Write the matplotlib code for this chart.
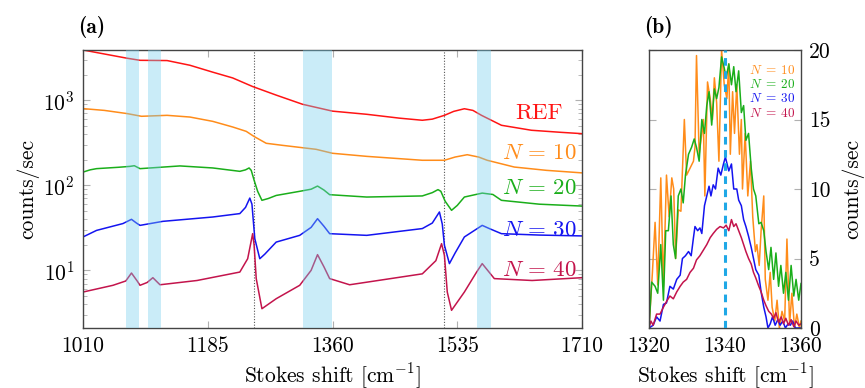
import matplotlib
matplotlib.use("Agg")
import matplotlib.pyplot as plt
from matplotlib.ticker import FixedLocator, NullFormatter, LogLocator

plt.rcParams['font.family'] = 'serif'
plt.rcParams['font.serif'] = ['cmr10', 'DejaVu Serif']
plt.rcParams['mathtext.fontset'] = 'cm'
plt.rcParams['axes.formatter.use_mathtext'] = True

# ---------------- panel (a) data ----------------
ref_x = [1010, 1040, 1072, 1090, 1128, 1160, 1192, 1220, 1248, 1281, 1318, 1360, 1408, 1454, 1486, 1500,
         1517, 1530, 1545, 1557, 1569, 1597, 1639, 1680, 1710]
ref_y = [3900, 3500, 3120, 2950, 2930, 2580, 2140, 1830, 1450, 1150, 897, 745, 684, 616, 582, 600,
         665, 740, 795, 760, 665, 508, 444, 420, 405]

n10_x = [1010, 1040, 1072, 1092, 1128, 1160, 1192, 1220, 1239, 1250, 1267, 1290, 1337, 1360, 1408, 1486,
         1517, 1532, 1549, 1565, 1577, 1615, 1660, 1710]
n10_y = [798, 760, 697, 648, 665, 635, 565, 485, 431, 375, 312, 295, 265, 238, 219, 197,
         197, 215, 229, 215, 197, 164, 150, 140]

n20_x = [1010, 1020, 1029, 1060, 1076, 1082, 1090, 1146, 1192, 1230, 1238, 1243, 1246, 1250, 1255, 1261,
         1270, 1281, 1314, 1330, 1339, 1348, 1356, 1408, 1486, 1500, 1508, 1512, 1518, 1527, 1535, 1545,
         1570, 1585, 1597, 1650, 1710]
n20_y = [143, 152, 157, 163, 167, 170, 157, 169, 160, 146, 152, 160, 150, 115, 85, 66.6,
         70, 76, 85, 90, 98, 88, 77.6, 72.8, 75, 82, 89, 85, 65, 50.8, 58, 72.8,
         81, 78, 66.6, 60, 57]

n30_x = [1010, 1029, 1066, 1078, 1085, 1090, 1122, 1192, 1230, 1238, 1244, 1247, 1251, 1258, 1265, 1281,
         1314, 1330, 1339, 1348, 1356, 1408, 1486, 1500, 1510, 1514, 1517, 1524, 1532, 1545, 1570, 1580,
         1597, 1650, 1710]
n30_y = [24.7, 29.5, 35.5, 39.8, 36, 33.8, 37.7, 42.4, 46.5, 55, 70.8, 60, 23.6, 13.7, 15.5, 21.5,
         25.8, 32, 40.5, 33, 27, 25.8, 31, 36, 48.6, 35, 19.7, 12.0, 16, 24.7, 33.8, 31,
         27, 26, 25.4]

n40_x = [1010, 1052, 1070, 1078, 1086, 1090, 1100, 1108, 1118, 1170, 1230, 1241, 1248, 1250, 1253, 1261,
         1281, 1314, 1330, 1339, 1348, 1356, 1384, 1486, 1505, 1513, 1517, 1521, 1527, 1545, 1562, 1570,
         1587, 1640, 1710]
n40_y = [5.56, 6.67, 7.5, 9.3, 7.5, 6.67, 7.2, 8.2, 6.77, 7.6, 9.55, 13.7, 27, 20, 8.0, 3.54,
         4.64, 6.67, 10, 15.3, 11, 8.0, 6.77, 9.1, 13, 20.6, 15, 5.56, 3.39, 5.56, 9.5, 12.0,
         8.0, 7.6, 8.2]

bands = [(1070, 1088), (1101, 1119), (1319, 1359), (1563, 1583)]
dotted_lines = [1249.5, 1517]
a_xticks = [1010, 1185, 1360, 1535, 1710]
a_labels = ['REF', r'$N\,=\,10$', r'$N\,=\,20$', r'$N\,=\,30$', r'$N\,=\,40$']
a_label_y = [700, 238, 92, 29.5, 10]

# ---------------- panel (b) data ----------------
b10_x = [1320.0, 1320.9, 1321.6, 1322.3, 1323.1, 1323.8, 1324.6, 1325.3, 1326.0, 1326.5, 1327.0, 1327.7,
         1328.4, 1329.3, 1329.9, 1330.8, 1331.7, 1332.1, 1332.5, 1333.2, 1333.9, 1334.3, 1334.7, 1335.4,
         1336.1, 1336.7, 1337.2, 1337.8, 1338.4, 1339.1, 1339.8, 1340.5, 1341.0, 1341.4, 1342.0, 1342.5,
         1343.1, 1343.8, 1344.3, 1344.6, 1345.3, 1346.0, 1346.7, 1347.3, 1348.0, 1348.4, 1349.0, 1349.5,
         1350.2, 1350.6, 1351.3, 1351.9, 1352.4, 1353.1, 1353.7, 1354.3, 1355.0, 1355.7, 1356.3, 1357.0,
         1357.6, 1358.3, 1358.9, 1359.6, 1360.0]
b10_y = [0.0, 4.0, 7.6, 3.1, 10.8, 3.0, 11.0, 8.0, 10.8, 10.0, 5.0, 8.5,
         8.4, 15.0, 11.0, 11.5, 12.0, 13.0, 19.6, 12.5, 14.0, 15.0, 9.5, 17.7,
         16.5, 15.0, 18.0, 16.2, 12.0, 20.0, 17.5, 16.5, 19.0, 12.5, 17.0, 14.0,
         17.5, 12.5, 15.0, 10.0, 14.0, 9.5, 12.0, 8.0, 5.5, 6.0, 4.5, 7.0,
         9.5, 3.5, 2.0, 4.0, 1.5, 0.5, 2.0, 0.0, 1.2, 0.5, 6.4, 0.3,
         2.5, 0.0, 1.0, 0.0, 0.5]

b20_x = [1320.0, 1320.7, 1321.6, 1322.3, 1323.1, 1323.8, 1324.4, 1325.1, 1325.8, 1326.4, 1327.0, 1327.7,
         1328.4, 1329.0, 1329.6, 1330.4, 1331.2, 1331.9, 1332.5, 1333.2, 1333.9, 1334.6, 1335.2, 1335.8,
         1336.5, 1337.2, 1337.8, 1338.4, 1339.1, 1339.8, 1340.3, 1341.0, 1341.7, 1342.3, 1342.9, 1343.6,
         1344.3, 1344.9, 1345.5, 1346.2, 1346.9, 1347.5, 1348.1, 1348.9, 1349.5, 1350.2, 1350.8, 1351.5,
         1352.1, 1352.8, 1353.4, 1354.1, 1354.7, 1355.4, 1356.0, 1356.7, 1357.4, 1358.1, 1358.7, 1359.4,
         1360.0]
b20_y = [0.0, 3.3, 3.0, 2.5, 6.0, 2.0, 7.0, 7.0, 9.5, 6.0, 5.0, 9.5,
         10.0, 9.0, 11.0, 12.5, 13.0, 13.6, 13.0, 12.0, 15.0, 14.0, 16.0, 17.0,
         14.6, 17.2, 16.5, 17.3, 19.5, 18.7, 18.0, 19.0, 17.5, 18.8, 17.0, 18.5,
         15.5, 16.0, 13.5, 14.0, 11.5, 10.0, 9.5, 7.5, 7.6, 7.0, 5.5, 4.2,
         5.8, 3.5, 5.4, 3.0, 4.5, 2.5, 4.0, 2.0, 4.5, 2.3, 3.5, 2.0,
         3.2]

b30_x = [1320.0, 1321.1, 1322.0, 1322.9, 1323.8, 1324.6, 1325.5, 1326.4, 1327.3, 1328.2, 1328.8, 1329.6,
         1330.4, 1331.1, 1331.7, 1332.1, 1332.8, 1333.4, 1333.9, 1334.6, 1335.2, 1335.8, 1336.3, 1336.9,
         1337.5, 1338.2, 1338.9, 1339.6, 1340.1, 1341.0, 1341.7, 1342.3, 1343.1, 1343.6, 1344.3, 1344.9,
         1345.5, 1346.2, 1346.9, 1347.5, 1348.1, 1348.9, 1349.5, 1350.2, 1350.8, 1351.3, 1351.9, 1352.5,
         1353.2, 1353.9, 1354.5, 1355.2, 1355.9, 1356.6, 1357.2, 1357.8, 1358.5, 1360.0]
b30_y = [0.0, 0.2, 0.8, 0.5, 1.7, 1.8, 3.0, 2.8, 3.5, 3.8, 5.0, 5.2,
         5.5, 5.2, 6.5, 7.3, 7.0, 7.2, 6.8, 8.8, 9.5, 10.2, 9.5, 10.3,
         10.0, 11.5, 11.0, 11.8, 12.3, 11.3, 11.8, 10.0, 10.0, 9.2, 8.8, 7.8,
         7.3, 6.6, 5.8, 5.0, 4.2, 3.8, 2.6, 1.5, 0.8, 0.0, 0.3, 0.8,
         0.2, 0.6, 0.2, 0.5, 0.0, 0.3, 0.2, 0.5, 0.0, 0.0]

b40_x = [1320.0, 1320.5, 1321.1, 1322.0, 1322.9, 1323.8, 1324.6, 1325.5, 1326.4, 1327.3, 1328.2, 1329.0,
         1329.9, 1330.8, 1331.7, 1332.5, 1333.4, 1334.3, 1335.2, 1336.1, 1336.9, 1337.8, 1338.7, 1339.6,
         1340.3, 1341.0, 1341.7, 1342.3, 1342.9, 1343.6, 1344.3, 1344.9, 1345.5, 1346.2, 1346.9, 1347.5,
         1348.1, 1348.9, 1349.5, 1350.2, 1350.8, 1351.5, 1352.2, 1352.8, 1353.4, 1354.1, 1354.8, 1355.4,
         1356.0, 1356.7, 1357.4, 1358.1, 1358.7, 1359.4, 1360.0]
b40_y = [0.0, 0.5, 0.2, 1.0, 1.0, 1.5, 1.9, 2.3, 2.1, 2.6, 3.0, 3.3,
         3.5, 4.0, 4.3, 4.9, 5.2, 5.6, 6.0, 6.5, 6.8, 7.1, 7.3, 7.2,
         7.4, 7.0, 7.8, 7.3, 7.5, 7.0, 6.5, 6.0, 5.5, 5.0, 4.6, 4.0,
         3.6, 3.0, 2.6, 2.0, 1.6, 1.2, 1.0, 0.7, 1.1, 0.4, 0.8, 0.3,
         0.7, 0.2, 0.6, 0.1, 0.5, 0.2, 0.3]

b_center = 1340
b_xticks = [1320, 1340, 1360]
b_yticks = [0, 5, 10, 15, 20]
b_labels = [r'$N\;=\;10$', r'$N\;=\;20$', r'$N\;=\;30$', r'$N\;=\;40$']

colors = ['#ff1414', '#ff8c1a', '#1aae1a', '#1414f0', '#c3144c']

FS = 15.5

# ---------------- figure ----------------
fig = plt.figure(figsize=(8.65, 3.88), dpi=100)
ax = fig.add_axes([83 / 865, 1 - 328 / 388, 499 / 865, 278 / 388])
bx = fig.add_axes([649 / 865, 1 - 328 / 388, 152 / 865, 278 / 388])

series_a = [(ref_x, ref_y), (n10_x, n10_y), (n20_x, n20_y), (n30_x, n30_y), (n40_x, n40_y)]
for (xs, ys), c in zip(series_a, colors):
    ax.plot(xs, ys, color=c, lw=1.1, zorder=2)
for lo, hi in bands:
    ax.axvspan(lo, hi, color='#75cdee', alpha=0.38, lw=0, zorder=3)
for xv in dotted_lines:
    ax.axvline(xv, color='#555555', lw=0.8, ls=(0, (1, 1.5)), zorder=1)
for lab, yv, c in zip(a_labels, a_label_y, colors):
    ax.text(1650, yv, lab, color=c, fontsize=16.5, ha='center', va='center', zorder=4)

ax.set_yscale('log')
ax.set_xlim(1010, 1710)
ax.set_ylim(2.1, 3900)
ax.set_xticks(a_xticks)
ax.set_xticklabels([str(t) for t in a_xticks])
ax.yaxis.set_major_locator(FixedLocator([10, 100, 1000]))
ax.yaxis.set_minor_locator(LogLocator(base=10, subs=range(2, 10)))
ax.yaxis.set_minor_formatter(NullFormatter())
ax.tick_params(which='both', direction='in', color='#b0b0b0', top=True, right=True,
               labelsize=FS, pad=6)
ax.tick_params(which='major', length=5)
ax.tick_params(which='minor', length=3)
for s in ax.spines.values():
    s.set_color('#444444')
    s.set_linewidth(1.0)
ax.set_xlabel(r'Stokes shift [cm$^{-1}$]', fontsize=FS, labelpad=4)
ax.set_ylabel('counts/sec', fontsize=FS, labelpad=3)
fig.text(78 / 865, 1 - 27 / 388, '(a)', fontsize=15.5, fontfamily='cmb10', ha='left', va='center')

series_b = [(b10_x, b10_y), (b20_x, b20_y), (b30_x, b30_y), (b40_x, b40_y)]
for (xs, ys), c in zip(series_b, colors[1:]):
    bx.plot(xs, ys, color=c, lw=1.1, zorder=2)
bx.axvline(b_center, color='#1fa8e6', lw=2.2, ls=(0, (2.5, 1.8)), zorder=3)
for i, (lab, c) in enumerate(zip(b_labels, colors[1:])):
    bx.text(0.655, 0.928 - i * 0.052, lab, color=c, fontsize=9.5, ha='left', va='center',
            transform=bx.transAxes)
bx.set_xlim(1320, 1360)
bx.set_ylim(0, 20)
bx.set_xticks(b_xticks)
bx.set_xticklabels([str(t) for t in b_xticks])
bx.set_yticks(b_yticks)
bx.set_yticklabels([str(t) for t in b_yticks])
bx.yaxis.tick_right()
bx.yaxis.set_label_position('right')
bx.tick_params(which='both', direction='in', color='#b0b0b0', left=True, right=True,
               labelsize=FS, pad=6, length=5)
for s in bx.spines.values():
    s.set_color('#444444')
    s.set_linewidth(1.0)
bx.set_xlabel(r'Stokes shift [cm$^{-1}$]', fontsize=FS, labelpad=4)
bx.set_ylabel('counts/sec', fontsize=FS, labelpad=8)
fig.text(644 / 865, 1 - 27 / 388, '(b)', fontsize=15.5, fontfamily='cmb10', ha='left', va='center')

fig.savefig('out.png', dpi=100)
